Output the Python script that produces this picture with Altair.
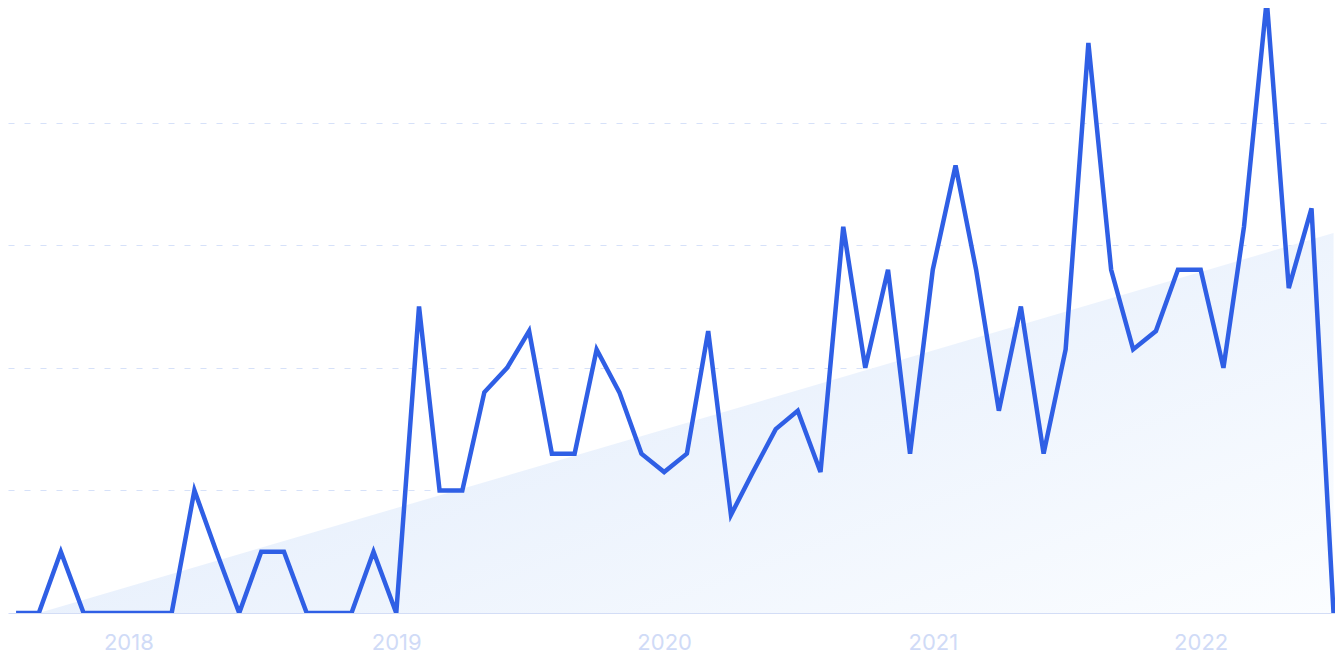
import pandas as pd
import altair as alt

# monthly points, Aug 2017 .. Jul 2022
months = pd.date_range("2017-08-01", periods=60, freq="MS").strftime("%Y-%m-%d").tolist()
interest = [
    0, 0, 10, 0, 0, 0, 0, 0, 20, 10, 0, 10, 10, 0, 0, 0, 10, 0,
    50, 20, 20, 36, 40, 46, 26, 26, 43, 36, 26, 23, 26, 46,
    16, 23, 30, 33, 23, 63, 40, 56, 26, 56, 73, 56, 33, 50,
    26, 43, 93, 56, 43, 46, 56, 56, 40, 63, 100, 53, 66, 0,
]

# shaded trend band under the line
trend_months = ["2017-09-01", "2022-07-01"]
trend_values = [0, 62]

df = pd.DataFrame({"month": months, "interest": interest})
trend = pd.DataFrame({"month": trend_months, "trend": trend_values})

x_scale = alt.Scale(
    type="utc",
    domain=[
        alt.DateTime(year=2017, month=7, date=21, utc=True),
        alt.DateTime(year=2022, month=7, date=3, utc=True),
    ],
)
y_scale = alt.Scale(domain=[0, 98.7], nice=False, zero=True)

x_axis = alt.Axis(
    title=None,
    format="%Y",
    tickCount="year",
    grid=False,
    ticks=False,
    domainColor="#d3ddf6",
    domainWidth=1,
    labelColor="#d0dbf7",
    labelFont="Inter",
    labelFontSize=22,
    labelPadding=19,
    labelFlush=False,
)
y_axis = alt.Axis(
    title=None,
    values=[20, 40, 60, 80, 100],
    labels=False,
    ticks=False,
    domain=False,
    grid=True,
    gridColor="#d6e1f9",
    gridDash=[6, 10],
    gridWidth=1.2,
)

band = alt.Chart(trend).mark_area(
    color=alt.Gradient(
        gradient="linear",
        stops=[
            alt.GradientStop(color="#dfeafb", offset=0),
            alt.GradientStop(color="#fbfdff", offset=1),
        ],
        x1=0, y1=0.2, x2=1, y2=1,
    )
).encode(
    x=alt.X("month:T", scale=x_scale, axis=x_axis),
    y=alt.Y("trend:Q", scale=y_scale, axis=y_axis),
)

line = alt.Chart(df).mark_line(color="#2f5fe5", strokeWidth=4.5, clip=True).encode(
    x=alt.X("month:T", scale=x_scale),
    y=alt.Y("interest:Q", scale=y_scale),
)

chart = (
    alt.layer(band, line)
    .properties(
        width=1327,
        height=605,
        autosize=alt.AutoSizeParams(type="none"),
        padding={"left": 0, "top": 0, "right": 0, "bottom": 40},
        background="white",
    )
    .configure_view(strokeWidth=0)
)

chart.save("out.html", embed_options={"renderer": "svg", "actions": False})
